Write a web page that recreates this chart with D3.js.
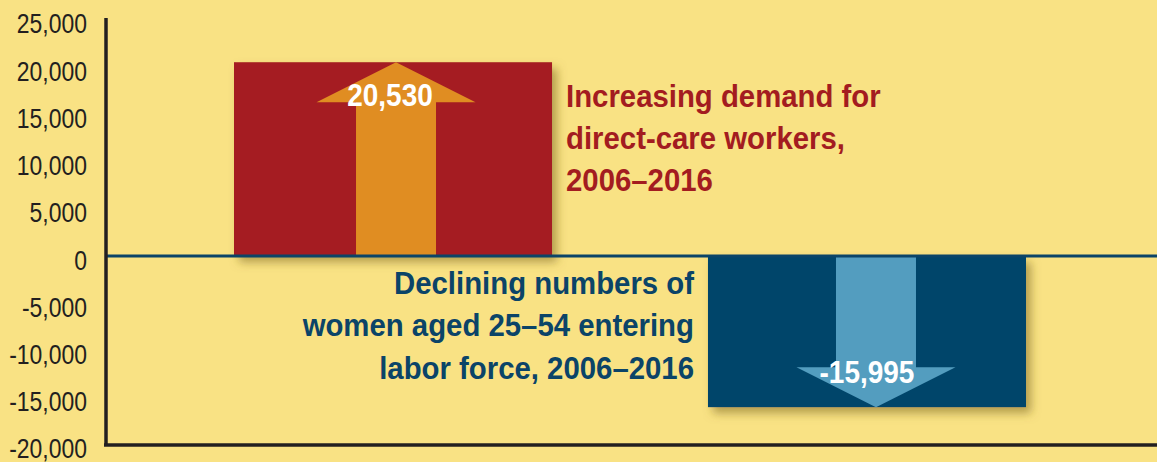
<!DOCTYPE html>
<html>
<head>
<meta charset="utf-8">
<script src="https://cdn.jsdelivr.net/npm/d3@7"></script>
<style>
  html, body { margin: 0; padding: 0; background: #f9e284; }
  svg { display: block; font-family: "Liberation Sans", Arial, sans-serif; }
</style>
</head>
<body>
<div id="chart"></div>
<script>
const categories = ["demand", "women"];
const values = [20530, -15995];
const valueLabels = ["20,530", "-15,995"];
const captions = [
  ["Increasing demand for", "direct-care workers,", "2006–2016"],
  ["Declining numbers of", "women aged 25–54 entering", "labor force, 2006–2016"],
];
const yTicks = [25000, 20000, 15000, 10000, 5000, 0, -5000, -10000, -15000, -20000];

const width = 1157;
const height = 462;

const barColors = ["#a51c20", "#00446a"];
const arrowColors = ["#e08d22", "#539dbf"];
const captionColors = ["#a31c20", "#0b4468"];
const arrowShift = [3, 9];

// the original uses a condensed face; squeeze Liberation Sans horizontally
const squeezeCaption = 0.947;
const squeezeValue = 0.875;
const squeezeTick = 0.85;

const svg = d3
  .select("#chart")
  .append("svg")
  .attr("width", width)
  .attr("height", height);

svg
  .append("rect")
  .attr("width", width)
  .attr("height", height)
  .attr("fill", "#f9e284");

const defs = svg.append("defs");
defs
  .append("filter")
  .attr("id", "shadow")
  .attr("x", "-10%")
  .attr("y", "-10%")
  .attr("width", "130%")
  .attr("height", "130%")
  .append("feDropShadow")
  .attr("dx", 5)
  .attr("dy", 6)
  .attr("stdDeviation", 5)
  .attr("flood-color", "#7a6420")
  .attr("flood-opacity", 0.55);

const y = d3.scaleLinear().domain([-20000, 25000]).range([445, 20]);
const x = d3
  .scaleBand()
  .domain(categories)
  .range([234, 1026])
  .paddingInner(0.329)
  .paddingOuter(0);

// Bars
svg
  .append("g")
  .selectAll("rect")
  .data(values)
  .join("rect")
  .attr("x", (d, i) => x(categories[i]))
  .attr("y", (d) => y(Math.max(0, d)))
  .attr("width", x.bandwidth())
  .attr("height", (d) => Math.abs(y(d) - y(0)))
  .attr("fill", (d, i) => barColors[i])
  .attr("filter", "url(#shadow)");

// Arrows
const shaftW = 80;
const headW = 159;
const headL = 40;
svg
  .append("g")
  .selectAll("path")
  .data(values)
  .join("path")
  .attr("fill", (d, i) => arrowColors[i])
  .attr("d", (d, i) => {
    const cx = x(categories[i]) + x.bandwidth() / 2 + arrowShift[i];
    const s = d > 0 ? 1 : -1;
    const y0 = y(0);
    const tip = y(d);
    const base = tip + s * headL;
    return `M${cx - shaftW / 2},${y0} L${cx - shaftW / 2},${base} L${cx - headW / 2},${base} L${cx},${tip} L${cx + headW / 2},${base} L${cx + shaftW / 2},${base} L${cx + shaftW / 2},${y0} Z`;
  });

// Zero line
svg
  .append("line")
  .attr("x1", 106)
  .attr("x2", width)
  .attr("y1", y(0))
  .attr("y2", y(0))
  .attr("stroke", "#0b4468")
  .attr("stroke-width", 3);

// Value labels
svg
  .append("g")
  .selectAll("text")
  .data(values)
  .join("text")
  .attr("transform", (d, i) => {
    const tx = x(categories[i]) + x.bandwidth() / 2 + (i === 0 ? -3 : 0);
    const ty = d > 0 ? y(d) + 44 : y(d) - 24;
    return `translate(${tx},${ty}) scale(${squeezeValue},1)`;
  })
  .attr("text-anchor", "middle")
  .attr("fill", "#fff")
  .attr("font-weight", "bold")
  .attr("font-size", 32)
  .text((d, i) => valueLabels[i]);

// Captions
const cap = svg.append("g").attr("font-weight", "bold").attr("font-size", 31);
cap
  .append("text")
  .attr("transform", `translate(${x(categories[0]) + x.bandwidth() + 14},107) scale(${squeezeCaption},1)`)
  .attr("fill", captionColors[0])
  .selectAll("tspan")
  .data(captions[0])
  .join("tspan")
  .attr("x", 0)
  .attr("dy", (d, i) => (i === 0 ? 0 : 42))
  .text((d) => d);

cap
  .append("text")
  .attr("transform", `translate(${x(categories[1]) - 14},294) scale(${squeezeCaption},1)`)
  .attr("text-anchor", "end")
  .attr("fill", captionColors[1])
  .selectAll("tspan")
  .data(captions[1])
  .join("tspan")
  .attr("x", 0)
  .attr("dy", (d, i) => (i === 0 ? 0 : 42.5))
  .text((d) => d);

// Axes
const yAxis = d3
  .axisLeft(y)
  .tickValues(yTicks)
  .tickSize(0)
  .tickSizeOuter(0)
  .tickPadding(19)
  .tickFormat((d) => d3.format(",")(d).replace("−", "-"));

svg
  .append("g")
  .attr("transform", "translate(106,0)")
  .call(yAxis)
  .call((g) => g.select(".domain").attr("stroke", "#231f20").attr("stroke-width", 3.5).attr("d", `M0,18V${y(-20000)}`))
  .call((g) =>
    g
      .selectAll("text")
      .attr("fill", "#231f20")
      .attr("font-size", 27)
      .attr("font-family", "inherit")
      .attr("dy", "0.48em")
      .attr("x", -19 / squeezeTick)
      .attr("transform", `scale(${squeezeTick},1)`)
  );

svg
  .append("line")
  .attr("x1", 104)
  .attr("x2", width)
  .attr("y1", y(-20000))
  .attr("y2", y(-20000))
  .attr("stroke", "#231f20")
  .attr("stroke-width", 3.5);
</script>
</body>
</html>
